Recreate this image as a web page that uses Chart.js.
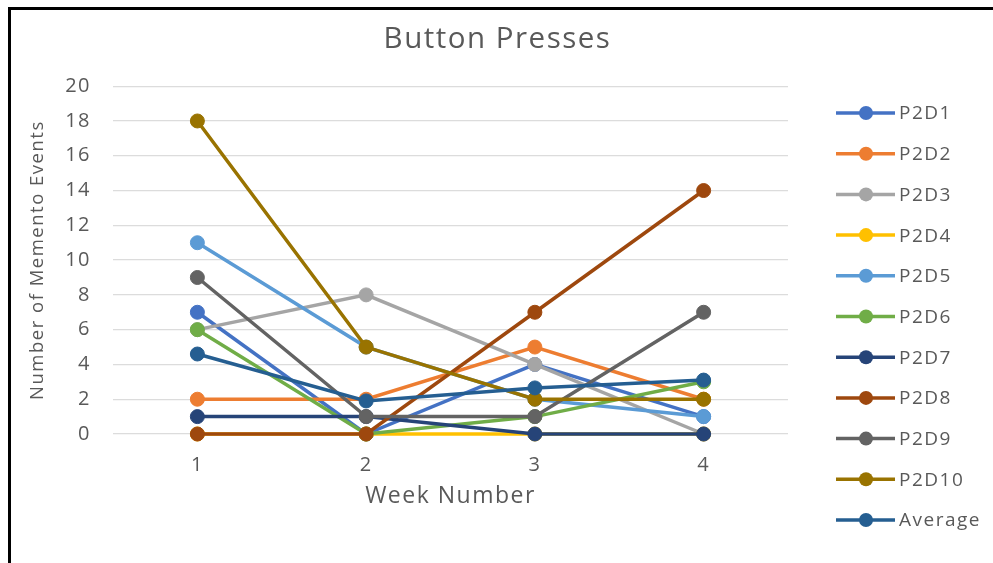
<!DOCTYPE html>
<html>
<head>
<meta charset="utf-8">
<script src="https://cdn.jsdelivr.net/npm/chart.js@4/dist/chart.umd.min.js"></script>
<style>
  html, body { margin: 0; padding: 0; background: #fff; }
  #wrap { position: relative; width: 993px; height: 563px; }
  #frame { position: absolute; left: 8px; top: 7px; right: 0; bottom: 0;
           border-left: 3px solid #000; border-top: 3px solid #000; pointer-events: none; }
</style>
</head>
<body>
<div id="wrap">
  <canvas id="chart" width="993" height="563"></canvas>
  <div id="frame"></div>
</div>
<script>
// Weekly button presses per participant
const weeks = ['1', '2', '3', '4'];
const seriesNames = ['P2D1', 'P2D2', 'P2D3', 'P2D4', 'P2D5', 'P2D6', 'P2D7', 'P2D8', 'P2D9', 'P2D10', 'Average'];
const p2d1 = [7, 0, 4, 1];
const p2d2 = [2, 2, 5, 2];
const p2d3 = [6, 8, 4, 0];
const p2d4 = [0, 0, 0, 0];
const p2d5 = [11, 5, 2, 1];
const p2d6 = [6, 0, 1, 3];
const p2d7 = [1, 1, 0, 0];
const p2d8 = [0, 0, 7, 14];
const p2d9 = [9, 1, 1, 7];
const p2d10 = [18, 5, 2, 2];
const average = [4.6, 1.9, 2.65, 3.1];
const seriesValues = [p2d1, p2d2, p2d3, p2d4, p2d5, p2d6, p2d7, p2d8, p2d9, p2d10, average];
const seriesColors = ['#4472C4', '#ED7D31', '#A5A5A5', '#FFC000', '#5B9BD5', '#70AD47',
                      '#264478', '#9E480E', '#636363', '#997300', '#255E91'];
const yTicks = [0, 2, 4, 6, 8, 10, 12, 14, 16, 18, 20];

const textColor = '#595959';
const FONT = '"Open Sans", "Liberation Sans", sans-serif';
const SPACING = '1.5px';

// Widen the letter spacing a touch for every text drawn on the canvas
const spacingPlugin = {
  id: 'spacing',
  beforeUpdate(chart) { chart.ctx.letterSpacing = SPACING; },
  beforeDraw(chart) { chart.ctx.letterSpacing = SPACING; }
};

// Legend to the right: a short line with a marker, then the series name
const sideLegend = {
  id: 'sideLegend',
  afterDraw(chart) {
    const ctx = chart.ctx;
    ctx.save();
    ctx.letterSpacing = SPACING;
    chart.data.datasets.forEach((ds, i) => {
      const y = 113 + i * 40.7;
      ctx.strokeStyle = ds.borderColor;
      ctx.lineWidth = 3.5;
      ctx.beginPath();
      ctx.moveTo(836, y);
      ctx.lineTo(895, y);
      ctx.stroke();
      ctx.fillStyle = ds.backgroundColor;
      ctx.beginPath();
      ctx.arc(866, y, 7, 0, Math.PI * 2);
      ctx.fill();
      ctx.fillStyle = textColor;
      ctx.font = '19px ' + FONT;
      ctx.textAlign = 'left';
      ctx.textBaseline = 'middle';
      ctx.fillText(ds.label, 899, y + 1);
    });
    ctx.restore();
  }
};

const datasets = seriesNames.map((name, i) => ({
  label: name,
  data: seriesValues[i],
  borderColor: seriesColors[i],
  backgroundColor: seriesColors[i],
  pointBackgroundColor: seriesColors[i],
  pointBorderColor: seriesColors[i],
  borderWidth: 3.5,
  pointRadius: 7,
  pointBorderWidth: 1,
  pointHoverRadius: 7,
  tension: 0,
  fill: false,
  clip: false,
  order: seriesNames.length - i
}));

new Chart(document.getElementById('chart'), {
  type: 'line',
  data: { labels: weeks, datasets },
  plugins: [spacingPlugin, sideLegend],
  options: {
    responsive: false,
    animation: false,
    events: [],
    layout: { padding: { left: 14, right: 12, top: 10, bottom: 0 } },
    plugins: {
      legend: { display: false },
      tooltip: { enabled: false },
      title: {
        display: true,
        text: 'Button Presses',
        color: textColor,
        font: { family: FONT, size: 29.5, weight: 'normal', lineHeight: 1.2 },
        padding: { top: 11.6, bottom: 29.2 }
      }
    },
    scales: {
      x: {
        type: 'category',
        offset: true,
        grid: { display: false, drawTicks: false },
        border: { display: false },
        ticks: { color: textColor, padding: 19, font: { family: FONT, size: 20 } },
        title: {
          display: true,
          text: 'Week Number',
          color: textColor,
          font: { family: FONT, size: 23, lineHeight: 1.2 },
          padding: { top: 0, bottom: 53 }
        },
        afterFit(scale) { scale.height = 129; }
      },
      y: {
        min: 0,
        max: 20,
        afterBuildTicks(scale) { scale.ticks = yTicks.map(v => ({ value: v })); },
        grid: { color: '#DCDCDC', lineWidth: 1.3, drawTicks: false },
        border: { display: false },
        ticks: { color: textColor, padding: 22, font: { family: FONT, size: 20 } },
        title: {
          display: true,
          text: 'Number of Memento Events',
          color: textColor,
          font: { family: FONT, size: 18.5, lineHeight: 1.2 },
          padding: { top: 13, bottom: 0 }
        },
        afterFit(scale) { scale.width = 99; }
      },
      // empty right-hand band that leaves room for the legend
      legendSpace: {
        type: 'linear',
        position: 'right',
        display: true,
        grid: { display: false, drawTicks: false },
        border: { display: false },
        ticks: { display: false },
        afterFit(scale) { scale.width = 193; }
      }
    }
  }
});
</script>
</body>
</html>
